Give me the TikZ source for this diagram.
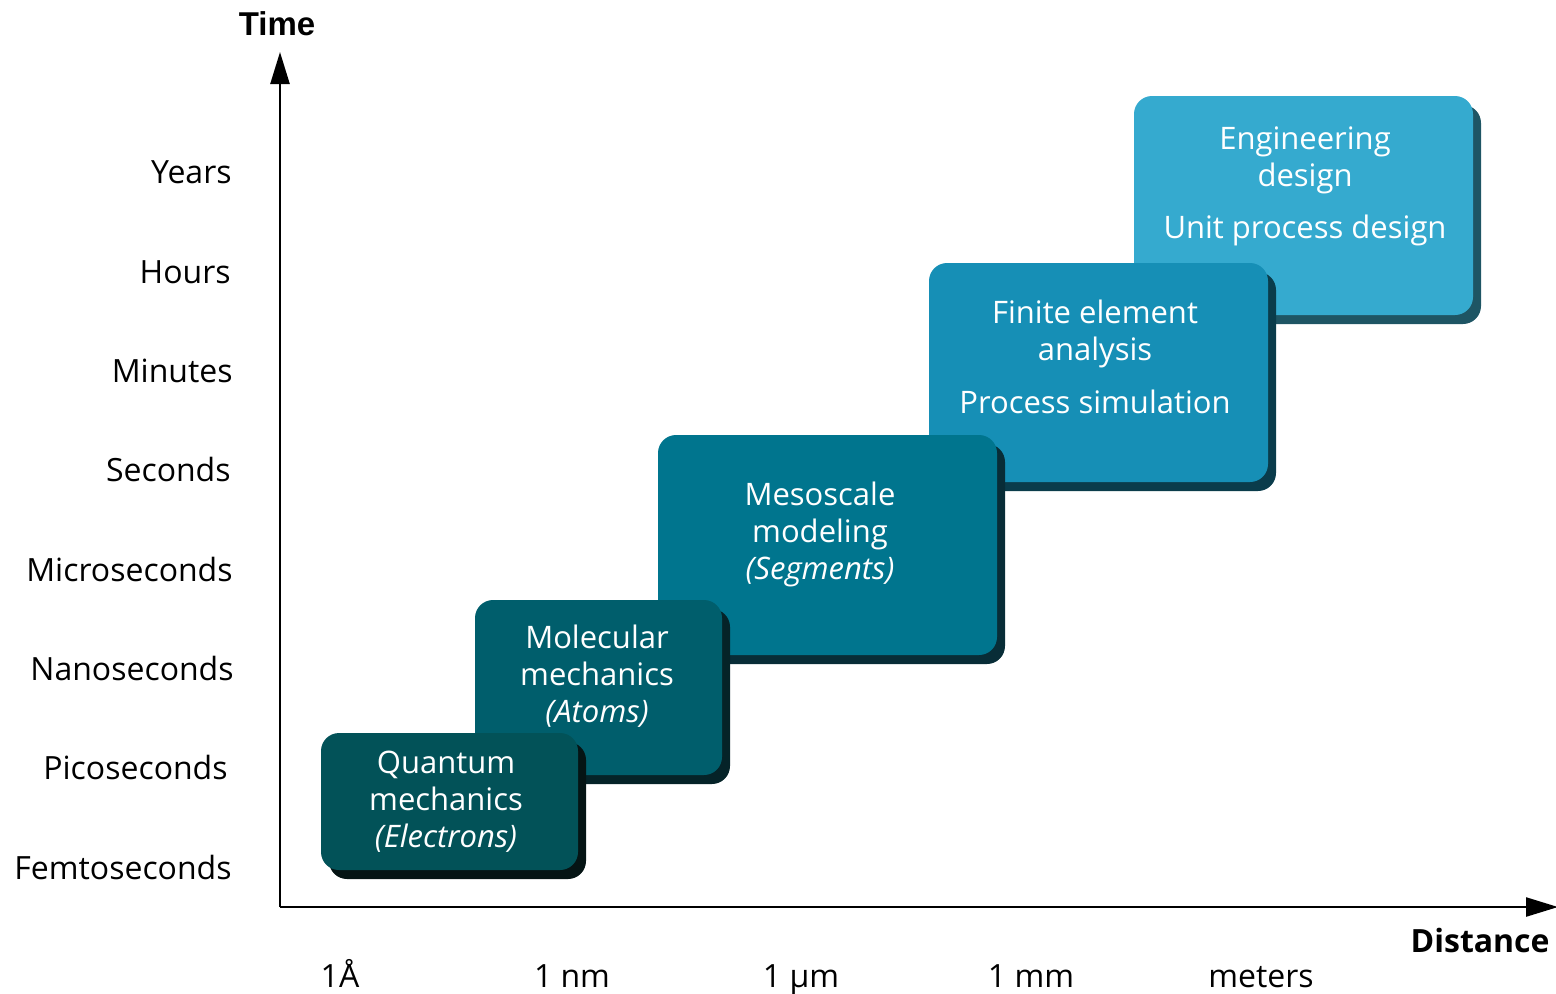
\documentclass[tikz,border=0pt]{standalone}
\usepackage{fontspec}
\setmainfont{Open Sans}
\newfontfamily\timefont{Liberation Sans}
\usetikzlibrary{arrows.meta,shadows}
\definecolor{cE}{HTML}{35AACF}
\definecolor{cF}{HTML}{168FB6}
\definecolor{cS}{HTML}{00758E}
\definecolor{cM}{HTML}{005E6C}
\definecolor{cQ}{HTML}{025258}
\definecolor{sE}{HTML}{1E5564}
\definecolor{sF}{HTML}{0A3C4B}
\definecolor{sS}{HTML}{082D37}
\definecolor{sM}{HTML}{052328}
\definecolor{sQ}{HTML}{051414}
\tikzset{
  scalebox/.style 2 args={rectangle, rounded corners=9pt, inner sep=0pt, draw=none,
    fill=#1, drop shadow={shadow xshift=4pt, shadow yshift=-4.5pt, fill=#2, opacity=1}},
  boxtext/.style={anchor=base, text=white, font=\fontsize{15.5}{18}\selectfont, inner sep=0pt},
  ylab/.style={anchor=base east, font=\fontsize{16}{19}\selectfont, inner sep=0pt},
  xlab/.style={anchor=base, font=\fontsize{16}{19}\selectfont, inner sep=0pt},
  axisline/.style={line width=1.2pt, -{Triangle[length=16pt,width=9.5pt]}}
}
\begin{document}
\begin{tikzpicture}[x=0.5pt,y=-0.5pt]
\useasboundingbox (0,0) rectangle (1556,993);
% axes
\coordinate (O) at (280,907);
\coordinate (ytip) at (280,52);
\coordinate (xtip) at (1558,907);
\draw[axisline] (O) -- (ytip);
\draw[axisline] (O) -- (xtip);
\node[anchor=base, font=\timefont\bfseries\fontsize{16.5}{19}\selectfont, inner sep=0pt] (time) at (277,35) {Time};
\node[anchor=base east, font=\bfseries\fontsize{16}{19}\selectfont, inner sep=0pt] (dist) at (1550,952) {Distance};
% y labels
\node[ylab] (y1) at (232,183) {Years};
\node[ylab] (y2) at (231,283) {Hours};
\node[ylab] (y3) at (233,382) {Minutes};
\node[ylab] (y4) at (231,481) {Seconds};
\node[ylab] (y5) at (233,581) {Microseconds};
\node[ylab] (y6) at (234,680) {Nanoseconds};
\node[ylab] (y7) at (228,779) {Picoseconds};
\node[ylab] (y8) at (232,879) {Femtoseconds};
% x labels
\node[xlab] (x1) at (340,987) {1Å};
\node[xlab] (x2) at (572,987) {1 nm};
\node[xlab] (x3) at (801,987) {1 µm};
\node[xlab] (x4) at (1031,987) {1 mm};
\node[xlab] (x5) at (1261,987) {meters};
% boxes, back to front
\node[scalebox={cE}{sE}, minimum width=169.5pt, minimum height=109.5pt] (E) at (1303.5,205.5) {};
\node[boxtext] (E1) at (1305,149) {Engineering};
\node[boxtext] (E2) at (1305,186) {design};
\node[boxtext] (E3) at (1305,238) {Unit process design};
\node[scalebox={cF}{sF}, minimum width=169.5pt, minimum height=109.5pt] (F) at (1098.5,372.5) {};
\node[boxtext] (F1) at (1095,323) {Finite element};
\node[boxtext] (F2) at (1095,360) {analysis};
\node[boxtext] (F3) at (1095,413) {Process simulation};
\node[scalebox={cS}{sS}, minimum width=169.5pt, minimum height=110pt] (S) at (827.5,545) {};
\node[boxtext] (S1) at (820,505) {Mesoscale};
\node[boxtext] (S2) at (820,542) {modeling};
\node[boxtext] (S3) at (820,579) {\itshape(Segments)};
\node[scalebox={cM}{sM}, minimum width=123.5pt, minimum height=87.5pt] (M) at (598.5,687.5) {};
\node[boxtext] (M1) at (597,648) {Molecular};
\node[boxtext] (M2) at (597,685) {mechanics};
\node[boxtext] (M3) at (597,722) {\itshape(Atoms)};
\node[scalebox={cQ}{sQ}, minimum width=128.5pt, minimum height=68.5pt] (Q) at (449.5,801.5) {};
\node[boxtext] (Q1) at (446,773) {Quantum};
\node[boxtext] (Q2) at (446,810) {mechanics};
\node[boxtext] (Q3) at (446,847) {\itshape(Electrons)};
\end{tikzpicture}
\end{document}
